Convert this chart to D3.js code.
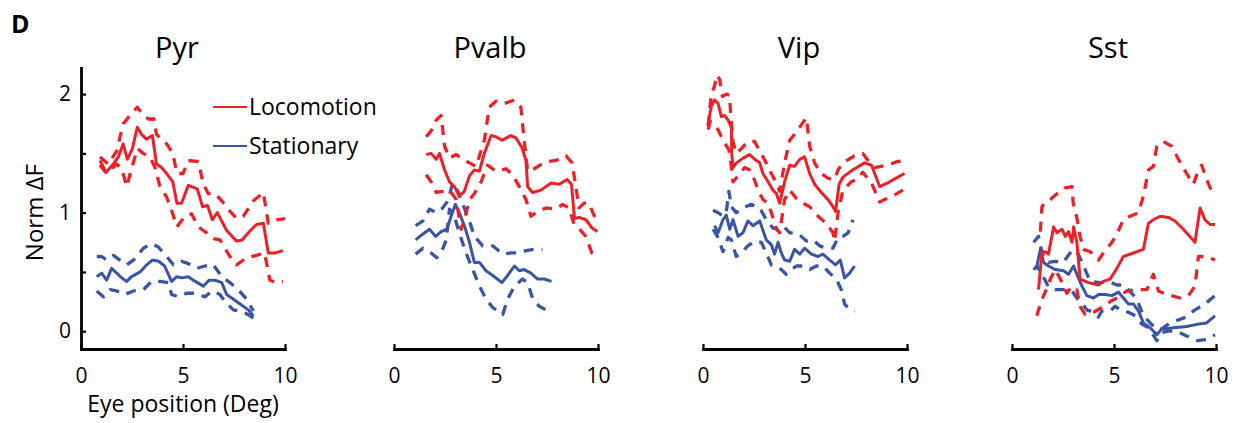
<!DOCTYPE html>
<html>
<head>
<meta charset="utf-8">
<script src="https://cdn.jsdelivr.net/npm/d3@7"></script>
<style>
  html, body { margin: 0; padding: 0; background: #fff; }
  svg { display: block; font-family: "Open Sans", "Noto Sans", sans-serif; }
</style>
</head>
<body>
<svg id="chart" width="1238" height="423"></svg>
<script>
// ---- Data: [eye position (deg), normalised dF] for mean and +/- error bounds ----
const panelNames = ["Pyr", "Pvalb", "Vip", "Sst"];
const conditionNames = ["Locomotion", "Stationary"];
const xTicks = [0, 5, 10];
const yTicks = [0, 0.5, 1, 1.5, 2];
const yTickLabels = ["0", "", "1", "", "2"];

const pyrLocoMean = [[0.93,1.44],[1.23,1.34],[1.59,1.41],[1.83,1.47],[2.07,1.58],[2.27,1.45],[2.52,1.54],[2.76,1.72],[2.97,1.66],[3.2,1.62],[3.5,1.65],[3.7,1.41],[3.95,1.38],[4.2,1.33],[4.5,1.26],[4.7,1.08],[4.93,1.08],[5.26,1.23],[5.7,1.2],[5.96,1.05],[6.2,1.06],[6.44,0.94],[6.68,1.0],[7.14,0.85],[7.63,0.76],[7.9,0.77],[8.2,0.83],[8.6,0.9],[8.94,0.91],[9.18,0.66],[9.5,0.66],[9.9,0.68]];
const pyrLocoHi = [[0.93,1.47],[1.34,1.41],[1.75,1.52],[2.07,1.75],[2.4,1.82],[2.76,1.89],[3.02,1.83],[3.3,1.79],[3.58,1.79],[3.7,1.66],[3.95,1.62],[4.2,1.58],[4.5,1.5],[4.7,1.33],[5.0,1.33],[5.26,1.44],[5.75,1.43],[6.0,1.24],[6.24,1.16],[6.57,1.16],[6.9,1.1],[7.2,1.03],[7.63,0.95],[7.96,0.97],[8.45,1.1],[8.94,1.17],[9.18,0.91],[9.6,0.94],[10,0.95]];
const pyrLocoLo = [[0.93,1.4],[1.26,1.33],[1.75,1.41],[2.0,1.37],[2.24,1.22],[2.48,1.37],[2.76,1.54],[3.05,1.5],[3.38,1.47],[3.63,1.38],[3.87,1.22],[4.2,1.13],[4.44,1.02],[4.7,0.88],[5.1,0.97],[5.42,0.99],[5.75,0.88],[6.16,0.83],[6.49,0.78],[6.81,0.77],[7.3,0.63],[7.63,0.56],[8.12,0.62],[8.6,0.64],[9.0,0.66],[9.26,0.43],[9.6,0.41],[9.9,0.42]];
const pyrStatMean = [[0.77,0.46],[1.01,0.49],[1.26,0.43],[1.5,0.53],[1.75,0.49],[2.0,0.45],[2.24,0.42],[2.48,0.46],[2.9,0.5],[3.22,0.56],[3.5,0.6],[3.8,0.59],[4.1,0.55],[4.44,0.42],[4.7,0.46],[4.93,0.45],[5.26,0.46],[5.6,0.42],[6.0,0.38],[6.27,0.43],[6.57,0.43],[6.9,0.41],[7.14,0.31],[7.47,0.27],[7.8,0.23],[8.2,0.18],[8.45,0.13]];
const pyrStatHi = [[0.77,0.63],[1.01,0.63],[1.26,0.6],[1.59,0.64],[1.91,0.6],[2.24,0.56],[2.57,0.6],[3.06,0.7],[3.46,0.74],[3.79,0.71],[4.2,0.63],[4.53,0.56],[4.93,0.59],[5.26,0.57],[5.67,0.53],[6.08,0.55],[6.49,0.56],[6.9,0.46],[7.3,0.41],[7.71,0.35],[8.12,0.27],[8.45,0.17]];
const pyrStatLo = [[0.77,0.34],[1.1,0.29],[1.42,0.35],[1.75,0.34],[2.16,0.31],[2.57,0.34],[3.06,0.35],[3.46,0.42],[3.87,0.42],[4.28,0.41],[4.44,0.31],[4.77,0.29],[5.18,0.32],[5.59,0.32],[6.08,0.29],[6.41,0.34],[6.81,0.31],[7.06,0.25],[7.47,0.18],[7.8,0.17],[8.2,0.14],[8.45,0.11]];

const pvalbLocoMean = [[1.58,1.49],[1.82,1.5],[2.07,1.45],[2.23,1.5],[2.48,1.36],[2.72,1.26],[2.96,1.22],[3.2,1.14],[3.45,1.18],[3.7,1.31],[3.94,1.36],[4.19,1.35],[4.43,1.5],[4.76,1.65],[5.0,1.64],[5.29,1.61],[5.73,1.65],[5.98,1.63],[6.27,1.55],[6.47,1.44],[6.55,1.22],[6.79,1.17],[7.2,1.19],[7.7,1.25],[8.1,1.24],[8.48,1.28],[8.7,1.24],[8.85,0.95],[9.07,0.96],[9.41,0.94],[9.71,0.87],[9.97,0.84]];
const pvalbLocoHi = [[1.58,1.64],[1.82,1.69],[2.07,1.78],[2.31,1.82],[2.48,1.56],[2.72,1.46],[3.05,1.49],[3.37,1.45],[3.7,1.42],[4.02,1.39],[4.43,1.61],[4.67,1.89],[5.0,1.94],[5.41,1.92],[5.9,1.95],[6.22,1.89],[6.38,1.61],[6.55,1.35],[6.87,1.37],[7.44,1.43],[7.93,1.44],[8.43,1.48],[8.73,1.42],[8.93,1.2],[9.07,1.04],[9.32,1.08],[9.56,1.08],[9.8,0.98],[9.97,0.92]];
const pvalbLocoLo = [[1.58,1.32],[1.82,1.26],[2.07,1.17],[2.39,1.18],[2.72,1.19],[3.05,1.11],[3.29,0.86],[3.45,0.94],[3.7,1.11],[3.94,1.16],[4.27,1.26],[4.59,1.4],[5.0,1.35],[5.49,1.37],[5.81,1.32],[6.14,1.22],[6.47,1.11],[6.71,0.97],[6.96,1.0],[7.44,1.04],[7.93,1.03],[8.26,1.07],[8.58,1.04],[8.83,0.9],[9.1,0.86],[9.4,0.8],[9.7,0.66],[9.97,0.63]];
const pvalbStatMean = [[1.06,0.77],[1.34,0.81],[1.74,0.86],[2.04,0.8],[2.31,0.84],[2.59,0.86],[2.8,0.97],[3.01,1.07],[3.2,1.0],[3.45,0.89],[3.7,0.75],[3.94,0.58],[4.19,0.58],[4.51,0.51],[4.84,0.47],[5.29,0.41],[5.57,0.47],[5.9,0.55],[6.14,0.51],[6.38,0.52],[6.71,0.49],[7.04,0.44],[7.36,0.44],[7.72,0.42]];
const pvalbStatHi = [[1.06,0.89],[1.42,0.93],[1.74,1.03],[2.07,1.0],[2.39,1.04],[2.64,1.1],[2.88,1.25],[3.13,1.18],[3.37,1.07],[3.7,0.93],[3.94,0.8],[4.35,0.72],[4.84,0.72],[5.33,0.65],[5.73,0.66],[6.14,0.66],[6.47,0.68],[6.87,0.69],[7.28,0.69]];
const pvalbStatLo = [[1.06,0.65],[1.42,0.7],[1.82,0.66],[2.1,0.62],[2.31,0.66],[2.56,0.77],[2.72,1.03],[2.96,0.97],[3.2,0.83],[3.53,0.66],[3.86,0.52],[4.19,0.38],[4.51,0.27],[4.84,0.2],[5.33,0.14],[5.57,0.27],[5.9,0.38],[6.3,0.44],[6.55,0.41],[6.79,0.28],[7.12,0.21],[7.44,0.18],[7.77,0.16]];

const vipLocoMean = [[0.25,1.75],[0.41,1.9],[0.57,1.95],[0.74,1.92],[0.9,1.81],[1.06,1.82],[1.23,1.78],[1.39,1.72],[1.41,1.5],[1.47,1.38],[1.64,1.42],[1.96,1.46],[2.29,1.49],[2.53,1.45],[2.78,1.42],[2.94,1.33],[3.19,1.26],[3.43,1.19],[3.6,1.16],[3.76,1.08],[4.0,1.26],[4.25,1.4],[4.49,1.39],[4.74,1.45],[4.98,1.47],[5.23,1.33],[5.47,1.24],[5.8,1.17],[6.13,1.11],[6.37,1.05],[6.5,1.01],[6.67,1.24],[6.86,1.3],[7.33,1.36],[7.92,1.42],[8.26,1.4],[8.66,1.22],[9.15,1.26],[9.55,1.3],[9.88,1.33]];
const vipLocoHi = [[0.25,1.73],[0.41,2.0],[0.55,2.06],[0.7,2.16],[0.82,2.12],[0.95,1.98],[1.15,2.0],[1.3,1.99],[1.35,1.85],[1.47,1.6],[1.63,1.5],[1.88,1.54],[2.2,1.6],[2.53,1.6],[2.78,1.52],[3.1,1.42],[3.35,1.33],[3.6,1.25],[3.76,1.18],[4.0,1.42],[4.25,1.61],[4.58,1.68],[4.82,1.74],[5.07,1.8],[5.23,1.56],[5.47,1.42],[5.8,1.33],[6.13,1.29],[6.45,1.28],[6.62,1.36],[6.86,1.42],[7.43,1.48],[7.83,1.5],[8.17,1.42],[8.41,1.38],[9.05,1.4],[9.5,1.43],[9.9,1.44]];
const vipLocoLo = [[0.25,1.7],[0.35,1.77],[0.49,1.75],[0.74,1.7],[0.98,1.61],[1.27,1.53],[1.39,1.39],[1.47,1.26],[1.72,1.31],[2.04,1.38],[2.29,1.36],[2.45,1.31],[2.7,1.19],[2.94,1.11],[3.19,1.08],[3.35,1.0],[3.6,0.86],[3.76,0.83],[4.0,1.11],[4.25,1.19],[4.58,1.12],[4.9,1.08],[5.23,1.05],[5.64,0.97],[6.05,0.91],[6.37,0.83],[6.45,0.76],[6.62,1.0],[6.86,1.19],[7.27,1.26],[7.52,1.28],[7.83,1.34],[8.26,1.25],[8.41,1.19],[8.66,1.09],[8.9,1.11],[9.4,1.15],[9.8,1.19]];
const vipStatMean = [[0.57,0.89],[0.74,0.83],[0.98,0.94],[1.14,0.98],[1.31,0.86],[1.47,0.94],[1.72,0.8],[1.96,0.83],[2.2,0.93],[2.45,0.89],[2.78,0.93],[3.1,0.77],[3.35,0.73],[3.51,0.65],[3.68,0.75],[3.84,0.66],[4.0,0.6],[4.25,0.59],[4.49,0.69],[4.74,0.65],[4.98,0.7],[5.31,0.65],[5.64,0.63],[5.88,0.65],[6.21,0.6],[6.5,0.56],[6.73,0.6],[6.94,0.45],[7.19,0.49],[7.43,0.55]];
const vipStatHi = [[0.49,1.02],[0.74,1.0],[0.98,0.97],[1.14,1.0],[1.27,1.18],[1.39,1.05],[1.63,1.0],[1.96,1.04],[2.37,1.07],[2.78,1.04],[3.1,0.94],[3.43,0.87],[3.68,0.86],[3.92,0.89],[4.25,0.83],[4.49,0.83],[4.82,0.8],[5.07,0.76],[5.39,0.77],[5.72,0.72],[6.05,0.7],[6.37,0.7],[6.62,0.79],[6.86,0.8],[7.11,0.83],[7.35,0.94]];
const vipStatLo = [[0.49,0.86],[0.74,0.79],[0.98,0.67],[1.23,0.79],[1.39,0.77],[1.63,0.63],[1.88,0.66],[2.2,0.72],[2.53,0.76],[2.86,0.75],[3.1,0.66],[3.35,0.56],[3.6,0.55],[3.84,0.52],[4.08,0.48],[4.33,0.52],[4.58,0.55],[4.9,0.55],[5.23,0.52],[5.56,0.55],[5.88,0.55],[6.21,0.49],[6.54,0.44],[6.78,0.35],[6.94,0.23],[7.19,0.18],[7.43,0.17]];

const sstLocoMean = [[1.3,0.35],[1.47,0.67],[1.63,0.67],[1.79,0.65],[2.04,0.88],[2.2,0.83],[2.45,0.86],[2.61,0.8],[2.77,0.84],[2.94,0.75],[3.02,0.88],[3.18,0.75],[3.34,0.44],[3.75,0.41],[4.24,0.39],[4.48,0.42],[4.81,0.44],[5.14,0.53],[5.46,0.63],[5.95,0.66],[6.44,0.69],[6.69,0.91],[6.93,0.94],[7.26,0.97],[7.67,0.96],[7.99,0.93],[8.4,0.86],[8.97,0.75],[9.22,1.04],[9.46,0.94],[9.71,0.9],[9.95,0.9]];
const sstLocoHi = [[1.39,0.84],[1.47,1.05],[1.6,1.08],[1.88,1.11],[2.28,1.17],[2.61,1.21],[2.94,1.22],[3.0,1.08],[3.2,0.94],[3.34,0.8],[3.5,0.69],[3.84,0.67],[4.24,0.6],[4.48,0.66],[4.9,0.75],[5.14,0.82],[5.46,0.94],[5.79,0.97],[6.2,1.0],[6.44,1.14],[6.69,1.36],[6.93,1.39],[7.1,1.56],[7.42,1.6],[7.83,1.56],[8.16,1.45],[8.56,1.33],[8.89,1.24],[9.14,1.36],[9.3,1.4],[9.54,1.28],[9.79,1.18],[9.95,1.17]];
const sstLocoLo = [[1.22,0.13],[1.3,0.18],[1.47,0.27],[1.63,0.33],[1.88,0.44],[2.12,0.52],[2.37,0.44],[2.53,0.38],[2.69,0.32],[2.94,0.38],[3.18,0.35],[3.34,0.21],[3.59,0.14],[4.0,0.16],[4.4,0.2],[4.81,0.25],[5.14,0.28],[5.63,0.34],[6.12,0.35],[6.61,0.35],[6.93,0.48],[7.18,0.34],[7.59,0.31],[8.24,0.28],[8.65,0.3],[8.97,0.38],[9.14,0.63],[9.54,0.63],[9.95,0.6]];
const sstStatMean = [[1.22,0.55],[1.39,0.69],[1.55,0.58],[1.79,0.55],[2.12,0.52],[2.53,0.51],[2.77,0.48],[3.02,0.55],[3.18,0.48],[3.43,0.38],[3.67,0.3],[4.0,0.28],[4.24,0.31],[4.57,0.31],[4.9,0.3],[5.22,0.33],[5.46,0.28],[5.71,0.23],[5.95,0.23],[6.2,0.17],[6.44,0.07],[6.77,0.03],[7.1,-0.03],[7.34,0.02],[7.59,0.02],[7.91,0.03],[8.56,0.04],[9.14,0.06],[9.54,0.07],[9.95,0.13]];
const sstStatHi = [[1.06,0.75],[1.3,0.8],[1.47,0.66],[1.79,0.58],[2.12,0.59],[2.5,0.58],[2.85,0.66],[3.0,0.69],[3.25,0.65],[3.51,0.55],[3.83,0.42],[4.32,0.41],[4.73,0.42],[5.14,0.39],[5.46,0.39],[5.87,0.32],[6.12,0.27],[6.44,0.13],[6.77,0.07],[7.1,0.02],[7.34,0.02],[7.75,0.07],[8.4,0.11],[8.97,0.18],[9.46,0.23],[9.95,0.3]];
const sstStatLo = [[1.06,0.52],[1.24,0.55],[1.49,0.46],[1.6,0.44],[1.79,0.37],[2.12,0.35],[2.5,0.35],[2.94,0.34],[3.18,0.28],[3.5,0.22],[3.67,0.18],[4.0,0.16],[4.24,0.12],[4.4,0.17],[4.81,0.17],[5.06,0.21],[5.38,0.17],[5.71,0.16],[6.04,0.13],[6.36,0.06],[6.69,0.03],[7.1,-0.08],[7.34,-0.01],[7.67,0.0],[8.08,0.0],[8.56,-0.04],[9.05,-0.08],[9.54,-0.07],[9.95,-0.03]];

// ---- Layout and style ----
const colors = { Locomotion: "#EE2027", Stationary: "#3A55A5" };
const panelLeft = [81, 394, 703, 1012];
const panelWidth = 204;
const axisY = 349;      // pixel row of the x axis
const plotTop = 68;     // top of the y axis line
const svg = d3.select("#chart");

// shared y scale (same for every panel)
const y = d3.scaleLinear().domain([-0.15, 2.22]).range([axisY, plotTop]);

const panels = [
  { name: panelNames[0], loco: [pyrLocoMean, pyrLocoHi, pyrLocoLo], stat: [pyrStatMean, pyrStatHi, pyrStatLo] },
  { name: panelNames[1], loco: [pvalbLocoMean, pvalbLocoHi, pvalbLocoLo], stat: [pvalbStatMean, pvalbStatHi, pvalbStatLo] },
  { name: panelNames[2], loco: [vipLocoMean, vipLocoHi, vipLocoLo], stat: [vipStatMean, vipStatHi, vipStatLo] },
  { name: panelNames[3], loco: [sstLocoMean, sstLocoHi, sstLocoLo], stat: [sstStatMean, sstStatHi, sstStatLo] }
];

// panel letter
svg.append("text")
  .attr("x", 11).attr("y", 33)
  .attr("font-size", 25).attr("font-weight", 700)
  .text("D");

panels.forEach((p, i) => {
  const x0 = panelLeft[i];
  const x = d3.scaleLinear().domain([0, 10]).range([x0, x0 + panelWidth]);
  const g = svg.append("g");

  const line = d3.line().x(d => x(d[0])).y(d => y(d[1]));

  // stationary first, locomotion on top; index 0 is the mean, 1-2 the bounds
  [["Stationary", p.stat], ["Locomotion", p.loco]].forEach(([cond, series]) => {
    series.forEach((pts, k) => {
      g.append("path")
        .datum(pts)
        .attr("d", line)
        .attr("fill", "none")
        .attr("stroke", colors[cond])
        .attr("stroke-width", k === 0 ? 3 : 3.3)
        .attr("stroke-linejoin", "round")
        .attr("stroke-dasharray", k === 0 ? null : "10,8");
    });
  });

  // x axis with inward ticks
  const xAxis = d3.axisBottom(x)
    .tickValues(xTicks)
    .tickSizeInner(-5)
    .tickSizeOuter(0)
    .tickPadding(19)
    .tickFormat(d3.format("d"));
  const gx = g.append("g")
    .attr("transform", `translate(0,${axisY})`)
    .call(xAxis);
  gx.select(".domain").attr("stroke", "#000").attr("stroke-width", 2.8).attr("stroke-linecap", "square");
  gx.selectAll(".tick line").attr("stroke", "#000").attr("stroke-width", 2.2);
  gx.selectAll(".tick text")
    .attr("font-size", 21).attr("font-family", "Open Sans, sans-serif").attr("fill", "#000");

  // panel title
  g.append("text")
    .attr("x", x(5) - 6).attr("y", 58)
    .attr("text-anchor", "middle")
    .attr("font-size", 29)
    .text(p.name);

  if (i === 0) {
    const yAxis = d3.axisLeft(y)
      .tickValues(yTicks)
      .tickSizeInner(-5)
      .tickSizeOuter(0)
      .tickPadding(10)
      .tickFormat((d, j) => yTickLabels[j]);
    const gy = g.append("g")
      .attr("transform", `translate(${x0},0)`)
      .call(yAxis);
    gy.select(".domain").attr("stroke", "#000").attr("stroke-width", 2.8).attr("stroke-linecap", "square");
    gy.selectAll(".tick line").attr("stroke", "#000").attr("stroke-width", 2.2);
    gy.selectAll(".tick text")
      .attr("font-size", 21).attr("font-family", "Open Sans, sans-serif").attr("fill", "#000");

    // axis titles
    g.append("text")
      .attr("x", x(5)).attr("y", 412)
      .attr("text-anchor", "middle")
      .attr("font-size", 23)
      .text("Eye position (Deg)");
    g.append("text")
      .attr("transform", `translate(43,${y(1)}) rotate(-90)`)
      .attr("text-anchor", "middle")
      .attr("font-size", 24)
      .text("Norm \u0394F");

    // legend
    const leg = g.append("g");
    conditionNames.forEach((c, j) => {
      const ly = 107 + j * 39;
      leg.append("line")
        .attr("x1", 213).attr("x2", 247)
        .attr("y1", ly).attr("y2", ly)
        .attr("stroke", colors[c]).attr("stroke-width", 2.2);
      leg.append("text")
        .attr("x", 249).attr("y", ly)
        .attr("dy", "0.36em")
        .attr("font-size", 23)
        .text(c);
    });
  }
});
</script>
</body>
</html>
